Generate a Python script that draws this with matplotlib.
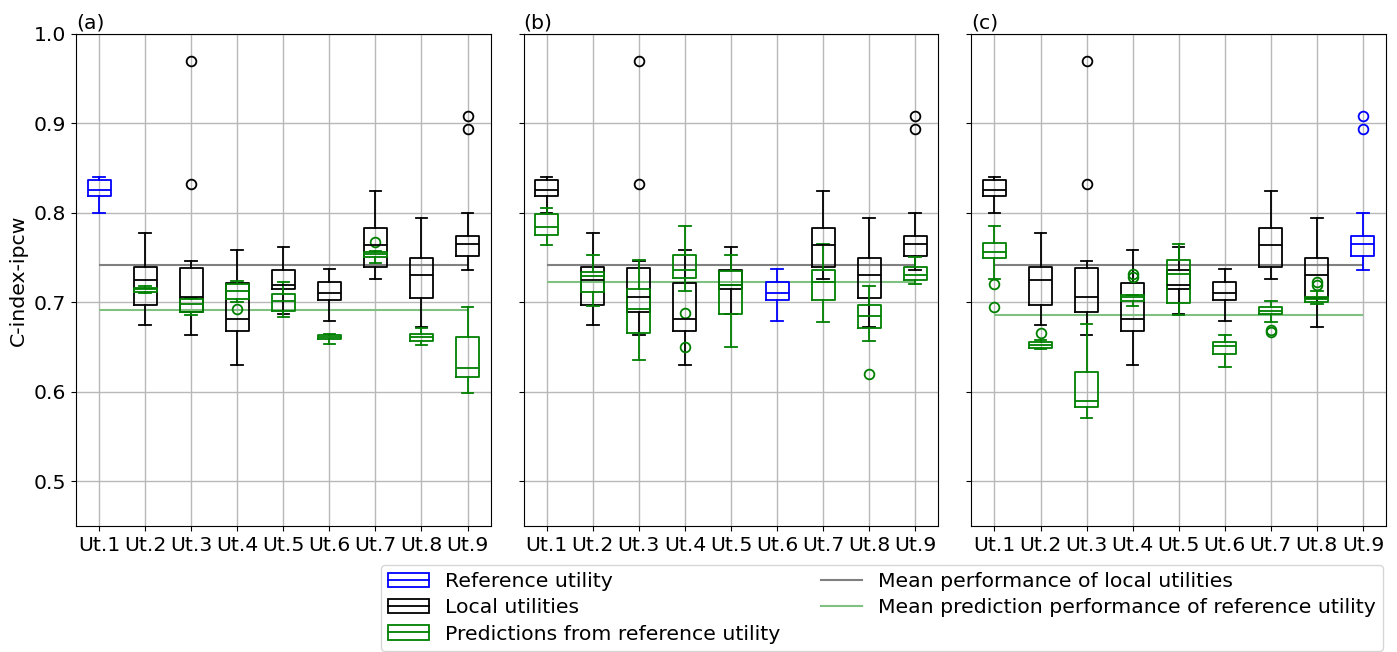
import numpy as np
import matplotlib
matplotlib.use("Agg")
import matplotlib.pyplot as plt
from matplotlib.patches import Patch, Rectangle
from matplotlib.lines import Line2D
from matplotlib.legend_handler import HandlerBase

plt.rcParams['font.family'] = ['DejaVu Sans']
FS = 14.7
plt.rcParams['font.size'] = FS

utilities = ['Ut.1', 'Ut.2', 'Ut.3', 'Ut.4', 'Ut.5', 'Ut.6', 'Ut.7', 'Ut.8', 'Ut.9']
panel_labels = ['(a)', '(b)', '(c)']
reference_index = [0, 5, 8]

# Local utilities (same in all panels)
local_whislo = [0.800, 0.675, 0.663, 0.630, 0.6875, 0.679, 0.726, 0.672, 0.736]
local_q1 = [0.819, 0.697, 0.689, 0.668, 0.715, 0.7026, 0.740, 0.705, 0.752]
local_med = [0.826, 0.725, 0.706, 0.681, 0.7195, 0.710, 0.764, 0.730, 0.7655]
local_q3 = [0.837, 0.740, 0.7386, 0.7217, 0.7356, 0.7225, 0.783, 0.750, 0.7745]
local_whishi = [0.840, 0.778, 0.7464, 0.758, 0.762, 0.737, 0.825, 0.794, 0.800]
local_fliers = [[], [], [0.970, 0.832], [], [], [], [], [], [0.908, 0.894]]

nan = float('nan')
# Predictions from reference utility, panel (a)
pred_a_whislo = [nan, 0.710, 0.686, 0.700, 0.684, 0.653, 0.744, 0.652, 0.599]
pred_a_q1 = [nan, 0.712, 0.689, 0.704, 0.690, 0.659, 0.751, 0.6565, 0.617]
pred_a_med = [nan, 0.7145, 0.698, 0.7127, 0.701, 0.661, 0.754, 0.661, 0.6266]
pred_a_q3 = [nan, 0.7165, 0.704, 0.721, 0.7094, 0.663, 0.7566, 0.6644, 0.6618]
pred_a_whishi = [nan, 0.718, 0.705, 0.7236, 0.7228, 0.665, 0.7577, 0.6708, 0.695]
pred_a_fliers = [[], [], [], [0.692], [], [], [0.768], [], []]

# panel (b)
pred_b_whislo = [0.7644, 0.6955, 0.636, 0.7131, 0.650, nan, 0.678, 0.6565, 0.721]
pred_b_q1 = [0.7753, 0.7116, 0.666, 0.7273, 0.687, nan, 0.7026, 0.6708, 0.7247]
pred_b_med = [0.7843, 0.7295, 0.693, 0.7363, 0.719, nan, 0.7225, 0.6848, 0.730]
pred_b_q3 = [0.7992, 0.734, 0.715, 0.7524, 0.7355, nan, 0.7363, 0.697, 0.739]
pred_b_whishi = [0.8049, 0.753, 0.7472, 0.7854, 0.7528, nan, 0.7652, 0.7184, 0.751]
pred_b_fliers = [[], [], [], [0.6884, 0.6506], [], [], [], [0.6195], []]

# panel (c)
pred_c_whislo = [0.7258, 0.648, 0.5708, 0.6955, 0.6855, 0.6273, 0.678, 0.6985, nan]
pred_c_q1 = [0.749, 0.649, 0.5831, 0.702, 0.6995, 0.6424, 0.6869, 0.7003, nan]
pred_c_med = [0.7566, 0.6525, 0.5895, 0.7055, 0.732, 0.6517, 0.6906, 0.7035, nan]
pred_c_q3 = [0.766, 0.6558, 0.6225, 0.708, 0.7472, 0.6554, 0.6947, 0.706, nan]
pred_c_whishi = [0.7858, 0.658, 0.6756, 0.7086, 0.7652, 0.6637, 0.7015, 0.7127, nan]
pred_c_fliers = [[0.721, 0.6947], [0.6652], [], [0.732, 0.728], [], [], [0.6695, 0.6665], [0.723, 0.719], []]

local_mean = [0.742, 0.742, 0.742]
pred_mean = [0.6914, 0.7228, 0.6858]

preds = [
    (pred_a_whislo, pred_a_q1, pred_a_med, pred_a_q3, pred_a_whishi, pred_a_fliers),
    (pred_b_whislo, pred_b_q1, pred_b_med, pred_b_q3, pred_b_whishi, pred_b_fliers),
    (pred_c_whislo, pred_c_q1, pred_c_med, pred_c_q3, pred_c_whishi, pred_c_fliers),
]


def make_stats(wl, q1, med, q3, wh, fl, idx):
    return [dict(whislo=wl[i], q1=q1[i], med=med[i], q3=q3[i], whishi=wh[i],
                 fliers=fl[i]) for i in idx]


def draw(ax, stats, positions, color):
    lw = 1.3
    ax.bxp(stats, positions=positions, widths=0.5, manage_ticks=False,
           boxprops=dict(color=color, lw=lw),
           medianprops=dict(color=color, lw=lw),
           whiskerprops=dict(color=color, lw=lw),
           capprops=dict(color=color, lw=lw),
           flierprops=dict(marker='o', markerfacecolor='none',
                           markeredgecolor=color, markersize=7, markeredgewidth=1.3))


fig, axes = plt.subplots(1, 3, figsize=(13.97, 6.52), dpi=100, sharey=True)
fig.subplots_adjust(left=0.0544, right=0.9921, top=0.9479, bottom=0.1933, wspace=0.08)

x = np.arange(1, len(utilities) + 1)
for p, ax in enumerate(axes):
    ref = reference_index[p]
    others = [i for i in range(len(utilities)) if i != ref]
    ax.grid(True, color='#b8b8b8', lw=1.0, zorder=0)
    ax.set_axisbelow(True)
    ax.hlines(local_mean[p], x[0], x[-1], color='gray', lw=1.5, zorder=1)
    ax.hlines(pred_mean[p], x[0], x[-1], color='#80c080', lw=1.5, zorder=1)
    draw(ax, make_stats(local_whislo, local_q1, local_med, local_q3, local_whishi,
                        local_fliers, others), x[others], 'black')
    draw(ax, make_stats(local_whislo, local_q1, local_med, local_q3, local_whishi,
                        local_fliers, [ref]), x[[ref]], 'blue')
    wl, q1, med, q3, wh, fl = preds[p]
    draw(ax, make_stats(wl, q1, med, q3, wh, fl, others), x[others], 'green')
    ax.set_xticks(x)
    ax.set_xticklabels(utilities)
    ax.set_xlim(0.5, 9.5)
    ax.set_ylim(0.45, 1.0)
    ax.set_yticks([0.5, 0.6, 0.7, 0.8, 0.9, 1.0])
    ax.set_title(panel_labels[p], loc='left', fontsize=FS, pad=4)
    ax.tick_params(labelsize=FS)

axes[0].set_ylabel('C-index-ipcw', fontsize=FS)


class BoxHandler(HandlerBase):
    def create_artists(self, legend, orig_handle, xdescent, ydescent, width,
                       height, fontsize, trans):
        color = orig_handle.get_edgecolor()
        rect = Rectangle((-xdescent, -ydescent), width, height, facecolor='none',
                         edgecolor=color, lw=1.3, transform=trans)
        line = Line2D([-xdescent, -xdescent + width],
                      [-ydescent + height / 2] * 2, color=color, lw=1.3,
                      transform=trans)
        return [rect, line]


handles = [
    Patch(edgecolor='blue', facecolor='none', label='Reference utility'),
    Patch(edgecolor='black', facecolor='none', label='Local utilities'),
    Patch(edgecolor='green', facecolor='none', label='Predictions from reference utility'),
    Line2D([], [], color='gray', lw=1.5, label='Mean performance of local utilities'),
    Line2D([], [], color='#80c080', lw=1.5, label='Mean prediction performance of reference utility'),
]
fig.legend(handles=handles, ncol=2, loc='lower right', bbox_to_anchor=(0.99, 0.002),
           borderaxespad=0, fontsize=FS, labelspacing=0.35, borderpad=0.35,
           handler_map={Patch: BoxHandler()})

fig.savefig('out.png', dpi=100)
